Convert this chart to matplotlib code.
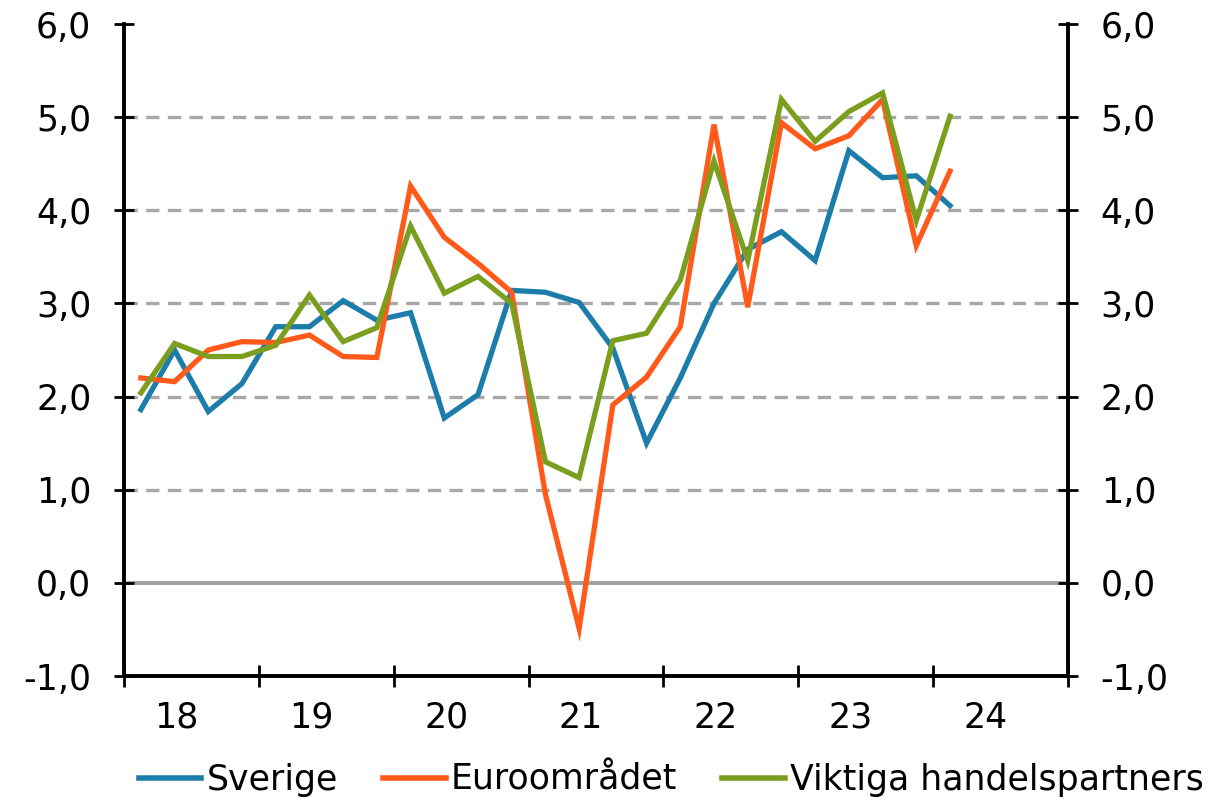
import matplotlib.pyplot as plt
import numpy as np

# quarterly data, 2018Q1 - 2024Q1
quarters = [f"{y}Q{q}" for y in range(2018, 2025) for q in range(1, 5)][:25]

sverige = [1.86, 2.50, 1.84, 2.14, 2.75, 2.75, 3.03, 2.82, 2.90, 1.77,
           2.02, 3.14, 3.12, 3.01, 2.52, 1.50, 2.20, 3.00, 3.58, 3.77,
           3.46, 4.64, 4.35, 4.37, 4.05]
euro = [2.20, 2.16, 2.50, 2.59, 2.58, 2.66, 2.43, 2.42, 4.26, 3.71,
        3.43, 3.12, 0.95, -0.49, 1.91, 2.21, 2.75, 4.92, 2.96, 4.94,
        4.66, 4.80, 5.19, 3.62, 4.42]
viktiga = [2.04, 2.57, 2.43, 2.43, 2.55, 3.09, 2.59, 2.74, 3.83, 3.11,
           3.29, 3.00, 1.30, 1.13, 2.60, 2.68, 3.25, 4.53, 3.46, 5.19,
           4.74, 5.06, 5.26, 3.89, 5.01]

series_names = ["Sverige", "Euroområdet", "Viktiga handelspartners"]
colors = ["#1C7DAA", "#FF5A1A", "#7B9E1E"]

years = list(range(2018, 2026))
year_labels = ["18", "19", "20", "21", "22", "23", "24"]
y_ticks = [-1, 0, 1, 2, 3, 4, 5, 6]
grid_vals = [1, 2, 3, 4, 5]

x = np.array([int(s[:4]) + (int(s[-1]) - 0.5) / 4 for s in quarters])

fig = plt.figure(figsize=(12.14, 7.99), dpi=100)
ax = fig.add_axes([124 / 1214, 1 - 676 / 799, (1068 - 124) / 1214, (676 - 24) / 799])

for g in grid_vals:
    ax.axhline(g, color="#a8a8a8", lw=2.4, dashes=(4, 2.5), zorder=1)
ax.axhline(0, color="#a0a0a0", lw=2.8, zorder=1)

for vals, name, c in zip([sverige, euro, viktiga], series_names, colors):
    ax.plot(x, vals, color=c, lw=3.8, label=name, zorder=3,
            solid_joinstyle="miter")

ax.set_xlim(2018, 2025)
ax.set_ylim(-1, 6)
ax.set_yticks(y_ticks)
ax.set_yticklabels([f"{v:.1f}".replace(".", ",") for v in y_ticks])
ax.set_xticks(years)
ax.set_xticklabels([])
ax.set_xticks([y + 0.39 for y in years[:-1]], minor=True)
ax.set_xticklabels(year_labels, minor=True)

ax.tick_params(axis="y", direction="inout", length=15, width=2,
               left=True, right=True, labelleft=True, labelright=True,
               labelsize=25, pad=16)
ax.tick_params(axis="x", which="major", direction="inout", length=16, width=2)
ax.tick_params(axis="x", which="minor", length=0, labelsize=25, pad=18)

ax.spines["top"].set_visible(False)
for s in ["left", "right", "bottom"]:
    ax.spines[s].set_linewidth(2.8)

leg = fig.legend(loc="center", bbox_to_anchor=(0.553, 0.024), ncol=3,
                 frameon=False, fontsize=25, handlelength=1.8,
                 handletextpad=0.15, columnspacing=1.3)
for line in leg.get_lines():
    line.set_linewidth(4)

fig.savefig("out.png", dpi=100)
